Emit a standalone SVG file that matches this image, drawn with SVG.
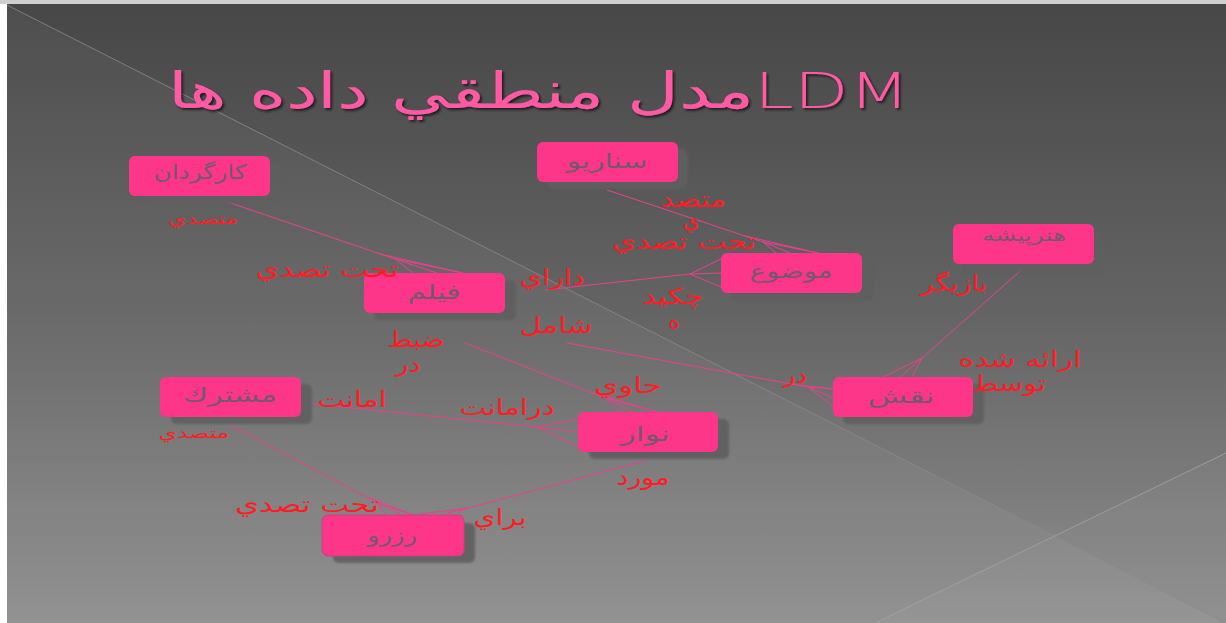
<svg xmlns="http://www.w3.org/2000/svg" width="1226" height="623" viewBox="0 0 1226 623">
  <defs>
    <linearGradient id="bgGrad" x1="0" y1="0" x2="0" y2="1">
      <stop offset="0" stop-color="#474747"/>
      <stop offset="0.5" stop-color="#646464"/>
      <stop offset="1" stop-color="#8e8e8e"/>
    </linearGradient>
    <filter id="soft" x="-10%" y="-20%" width="120%" height="140%">
      <feGaussianBlur stdDeviation="1.2"/>
    </filter>
    <filter id="titleShadow" x="-5%" y="-20%" width="110%" height="140%">
      <feGaussianBlur in="SourceAlpha" stdDeviation="1"/>
      <feOffset dx="1.5" dy="1.5" result="b"/>
      <feFlood flood-color="#1a1a1a" flood-opacity="0.9"/>
      <feComposite in2="b" operator="in" result="s"/>
      <feMerge><feMergeNode in="s"/><feMergeNode in="SourceGraphic"/></feMerge>
    </filter>
  </defs>
  <style>
    .shadow { fill: #5e5e5e; opacity: 0.9; }
    .box { fill: #fe368a; }
    .name { font-family: "DejaVu Sans", "Noto Sans", sans-serif; font-size: 20px; fill: #74596c; text-anchor: middle; direction: rtl; }
    .lbl { font-family: "DejaVu Sans", "Noto Sans", sans-serif; font-size: 22px; fill: #ff1c24; text-anchor: middle; direction: rtl; }
    .lbl.small { font-size: 15px; }
    .link { fill: none; stroke: #e8418c; stroke-width: 1; }
    .title { font-family: "DejaVu Sans", "Noto Sans", sans-serif; font-size: 50px; font-weight: 200; fill: #ff5aa3; text-anchor: middle; direction: rtl; }
  </style>

  <!-- slide background -->
  <rect x="0" y="0" width="1226" height="623" fill="#ffffff"/>
  <rect x="0" y="0" width="1226" height="4" fill="#cfcfcf"/>
  <rect x="7" y="4" width="1219" height="619" fill="url(#bgGrad)"/>
  <polygon points="7,5 1226,623 7,623" fill="#ffffff" opacity="0.04"/>
  <polygon points="875,623 1226,453 1226,623" fill="#ffffff" opacity="0.03"/>
  <line x1="7" y1="5" x2="1226" y2="623" stroke="#8a8a8a" stroke-width="1" opacity="0.8"/>
  <line x1="875" y1="623" x2="1226" y2="453" stroke="#a4a4a4" stroke-width="1" opacity="0.8"/>

  <!-- title -->
  <text class="title" x="539" y="108" textLength="742" lengthAdjust="spacingAndGlyphs" filter="url(#titleShadow)">LDMمدل منطقي داده ها</text>

  <!-- relationship lines with crow's feet -->
  <g id="connectors">
    <!-- کارگردان - فيلم -->
    <path class="link" d="M210,196 L395,259 M395,259 L413,273 M395,259 L437,273 M395,259 L463,273 M380,254 L463,273"/>
    <!-- سناريو - موضوع -->
    <path class="link" d="M607,190 L763,242 M763,242 L776,253 M763,242 L790,253 M763,242 L818,253 M745,236 L818,253"/>
    <!-- فيلم - موضوع -->
    <path class="link" d="M545,290 L690,274 M690,274 L721,259 M690,274 L721,273 M690,274 L721,287"/>
    <!-- فيلم - نقش -->
    <path class="link" d="M567,343 L808,387 M808,387 L833,389 M808,387 L833,398 M808,387 L833,406 M790,384 L833,389"/>
    <!-- هنرپيشه - نقش -->
    <path class="link" d="M1027,265 L922,358 M922,358 L883,377 M922,358 L900,377 M922,358 L912,377"/>
    <!-- فيلم - نوار -->
    <path class="link" d="M465,343 L605,398 M605,398 L620,412 M605,398 L633,412 M605,398 L657,412 M590,392 L657,412"/>
    <!-- مشترك - نوار -->
    <path class="link" d="M313,404 L537,427 M537,427 L578,419 M537,427 L578,432 M537,427 L578,447"/>
    <!-- مشترك - رزرو -->
    <path class="link" d="M230,425 L378,503 M378,503 L385,514 M378,503 L400,514 M378,503 L413,515 M368,497 L413,515"/>
    <!-- نوار - رزرو -->
    <path class="link" d="M648,460 L468,508 M468,508 L420,514 M468,508 L447,513 M468,508 L458,512"/>
  </g>

  <!-- entities -->
  <g id="node-kargardan">
    <rect class="shadow" x="139" y="163" width="142" height="40" rx="6" filter="url(#soft)"/>
    <rect class="box" x="129" y="156" width="141" height="40" rx="6"/>
    <text class="name" x="200" y="179" textLength="93" lengthAdjust="spacingAndGlyphs">کارگردان</text>
  </g>
  <g id="node-senario">
    <rect class="shadow" x="547" y="149" width="141" height="40" rx="6" filter="url(#soft)"/>
    <rect class="box" x="537" y="142" width="141" height="40" rx="6"/>
    <text class="name" x="607" y="168" textLength="81" lengthAdjust="spacingAndGlyphs">سناريو</text>
  </g>
  <g id="node-mozoo">
    <rect class="shadow" x="731" y="260" width="142" height="40" rx="6" filter="url(#soft)"/>
    <rect class="box" x="721" y="253" width="141" height="40" rx="6"/>
    <text class="name" x="791" y="278" textLength="83" lengthAdjust="spacingAndGlyphs">موضوع</text>
  </g>
  <g id="node-honarpishe">
    <rect class="shadow" x="963" y="231" width="141" height="41" rx="6" filter="url(#soft)"/>
    <rect class="box" x="953" y="224" width="141" height="40" rx="6"/>
    <text class="name" x="1024" y="241" style="font-size:16px" textLength="84" lengthAdjust="spacingAndGlyphs">هنرپيشه</text>
  </g>
  <g id="node-film">
    <rect class="shadow" x="374" y="280" width="142" height="40" rx="6" filter="url(#soft)"/>
    <rect class="box" x="364" y="273" width="141" height="40" rx="6"/>
    <text class="name" x="434" y="299" textLength="53" lengthAdjust="spacingAndGlyphs">فيلم</text>
  </g>
  <g id="node-naghsh">
    <rect class="shadow" x="843" y="384" width="141" height="40" rx="6" filter="url(#soft)"/>
    <rect class="box" x="833" y="377" width="140" height="40" rx="6"/>
    <text class="name" x="901" y="403" textLength="67" lengthAdjust="spacingAndGlyphs">نقش</text>
  </g>
  <g id="node-moshtarak">
    <rect class="shadow" x="171" y="384" width="141" height="40" rx="6" filter="url(#soft)"/>
    <rect class="box" x="160" y="377" width="141" height="40" rx="6"/>
    <text class="name" x="230" y="402" textLength="94" lengthAdjust="spacingAndGlyphs">مشترك</text>
  </g>
  <g id="node-navar">
    <rect class="shadow" x="589" y="419" width="140" height="40" rx="6" filter="url(#soft)"/>
    <rect class="box" x="578" y="412" width="140" height="40" rx="6"/>
    <text class="name" x="645" y="441" textLength="49" lengthAdjust="spacingAndGlyphs">نوار</text>
  </g>
  <g id="node-rezerv">
    <rect class="shadow" x="333" y="523" width="142" height="40" rx="6" filter="url(#soft)"/>
    <rect class="box" x="322" y="515" width="142" height="41" rx="6" stroke="#c0457e" stroke-width="1"/>
    <text class="name" x="392" y="542" textLength="50" lengthAdjust="spacingAndGlyphs">رزرو</text>
  </g>

  <!-- relationship labels -->
  <g id="labels">
    <text class="lbl small" x="203" y="224" textLength="70" lengthAdjust="spacingAndGlyphs">متصدي</text>
    <text class="lbl" x="327" y="277" textLength="143" lengthAdjust="spacingAndGlyphs">تحت تصدي</text>
    <text class="lbl" x="693" y="207" textLength="66" lengthAdjust="spacingAndGlyphs">متصد</text>
    <text class="lbl" x="691" y="228">ي</text>
    <text class="lbl" x="684" y="249" textLength="144" lengthAdjust="spacingAndGlyphs">تحت تصدي</text>
    <text class="lbl" x="552" y="285" textLength="65" lengthAdjust="spacingAndGlyphs">داراي</text>
    <text class="lbl" x="673" y="304" textLength="62" lengthAdjust="spacingAndGlyphs">چكيد</text>
    <text class="lbl" x="674" y="329">ه</text>
    <text class="lbl" x="556" y="333" textLength="73" lengthAdjust="spacingAndGlyphs">شامل</text>
    <text class="lbl" x="416" y="347" textLength="57" lengthAdjust="spacingAndGlyphs">ضبط</text>
    <text class="lbl" x="408" y="372" textLength="25" lengthAdjust="spacingAndGlyphs">در</text>
    <text class="lbl" x="628" y="393" textLength="68" lengthAdjust="spacingAndGlyphs">حاوي</text>
    <text class="lbl" x="795" y="383" textLength="24" lengthAdjust="spacingAndGlyphs">در</text>
    <text class="lbl" x="954" y="291" textLength="67" lengthAdjust="spacingAndGlyphs">بازيگر</text>
    <text class="lbl" x="1020" y="367" textLength="123" lengthAdjust="spacingAndGlyphs">ارائه شده</text>
    <text class="lbl" x="1009" y="391" textLength="74" lengthAdjust="spacingAndGlyphs">توسط</text>
    <text class="lbl" x="352" y="407" textLength="69" lengthAdjust="spacingAndGlyphs">امانت</text>
    <text class="lbl" x="507" y="415" textLength="95" lengthAdjust="spacingAndGlyphs">درامانت</text>
    <text class="lbl small" x="194" y="438" textLength="71" lengthAdjust="spacingAndGlyphs">متصدي</text>
    <text class="lbl" x="643" y="485" textLength="53" lengthAdjust="spacingAndGlyphs">مورد</text>
    <text class="lbl" x="307" y="512" textLength="144" lengthAdjust="spacingAndGlyphs">تحت تصدي</text>
    <text class="lbl" x="500" y="525" textLength="53" lengthAdjust="spacingAndGlyphs">براي</text>
  </g>
</svg>
